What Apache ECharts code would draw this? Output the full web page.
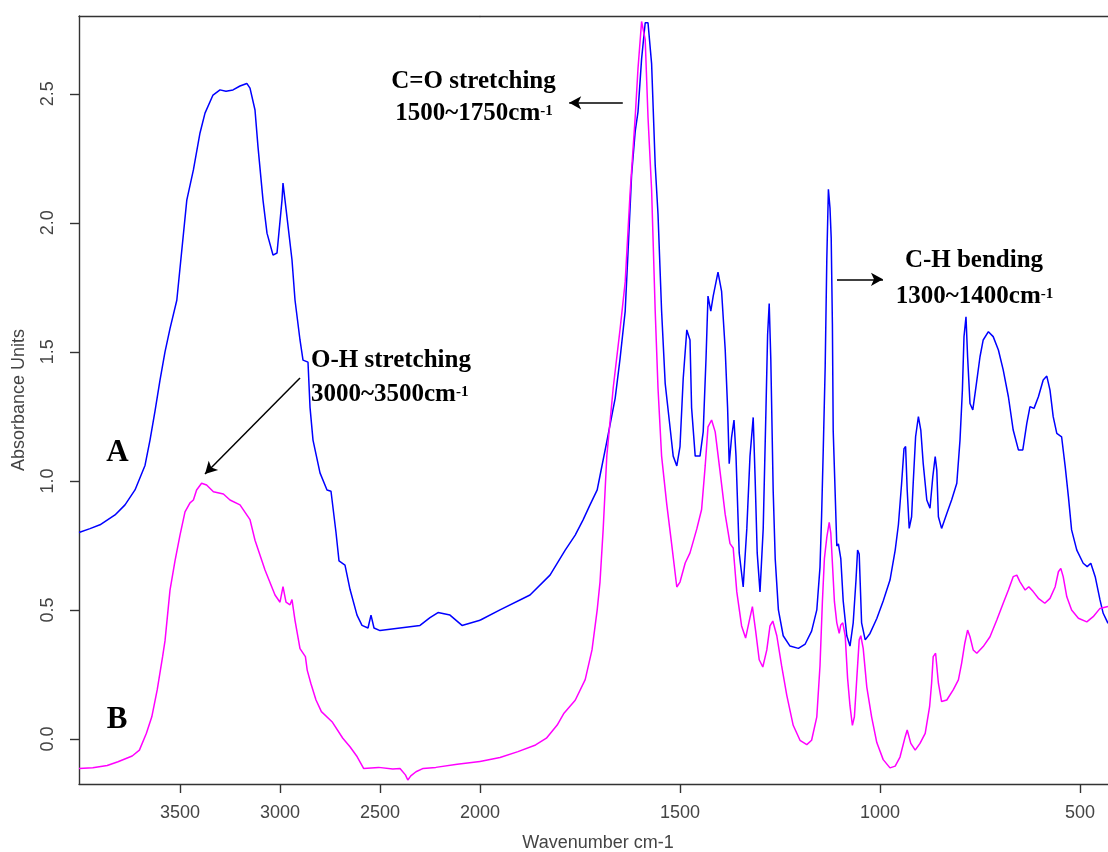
<!DOCTYPE html>
<html><head><meta charset="utf-8">
<script src="https://cdn.jsdelivr.net/npm/echarts@6/dist/echarts.min.js"></script>
<style>html,body{margin:0;padding:0;background:#fff}#chart{width:1108px;height:852px}</style>
</head><body><div id="chart"></div>
<script>
// Spectrum A (blue): wavenumber (cm-1) and absorbance
const waveA = [
 4005, 3950, 3900, 3825, 3775, 3725, 3675, 3650, 3625, 3600,
 3575, 3550, 3516, 3466, 3433, 3400, 3375, 3335, 3300, 3270,
 3235, 3200, 3166, 3150, 3125, 3110, 3085, 3065, 3035, 3015,
 2990, 2985, 2965, 2940, 2925, 2900, 2885, 2860, 2850, 2835,
 2800, 2765, 2745, 2720, 2705, 2675, 2650, 2615, 2590, 2560,
 2545, 2530, 2500, 2400, 2300, 2250, 2210, 2150, 2090, 2000,
 1950, 1875, 1825, 1787, 1762, 1742, 1725, 1707, 1700, 1683,
 1662, 1650, 1637, 1630, 1621, 1612, 1605, 1596, 1587, 1580,
 1571, 1562, 1555, 1546, 1537, 1525, 1517, 1508, 1500, 1492,
 1483, 1475, 1471, 1462, 1450, 1442, 1435, 1430, 1423, 1417,
 1405, 1396, 1387, 1381, 1377, 1371, 1365, 1360, 1352, 1342,
 1333, 1325, 1317, 1312, 1307, 1300, 1292, 1285, 1281, 1277,
 1273, 1267, 1262, 1254, 1242, 1225, 1204, 1187, 1171, 1158,
 1150, 1146, 1142, 1137, 1133, 1129, 1125, 1122, 1119, 1117,
 1112, 1108, 1104, 1098, 1092, 1083, 1075, 1067, 1060, 1056,
 1052, 1046, 1037, 1025, 1008, 992, 975, 962, 954, 946,
 940, 936, 932, 927, 921, 917, 911, 904, 898, 892,
 883, 875, 868, 862, 858, 854, 846, 833, 821, 808,
 800, 794, 790, 785, 781, 775, 768, 760, 750, 742,
 729, 717, 704, 692, 679, 667, 654, 643, 633, 625,
 615, 604, 592, 583, 575, 567, 558, 546, 537, 529,
 521, 508, 492, 482, 473, 462, 450, 442, 430
];
const absA = [
 0.80, 0.815, 0.83, 0.868, 0.907, 0.965, 1.06, 1.158, 1.27, 1.39,
 1.50, 1.59, 1.70, 2.088, 2.205, 2.348, 2.425, 2.495, 2.515, 2.51,
 2.515, 2.53, 2.54, 2.522, 2.437, 2.294, 2.088, 1.96, 1.875, 1.883,
 2.088, 2.154, 2.022, 1.856, 1.701, 1.546, 1.468, 1.46, 1.286, 1.158,
 1.031, 0.965, 0.96, 0.80, 0.69, 0.674, 0.58, 0.48, 0.44, 0.43,
 0.48, 0.43, 0.42, 0.43, 0.44, 0.47, 0.49, 0.48, 0.44, 0.46,
 0.50, 0.558, 0.635, 0.732, 0.79, 0.85, 0.907, 0.965, 1.02, 1.152,
 1.321, 1.472, 1.658, 1.884, 2.185, 2.354, 2.43, 2.635, 2.775, 2.775,
 2.617, 2.224, 2.034, 1.658, 1.377, 1.209, 1.096, 1.058, 1.133, 1.396,
 1.585, 1.546, 1.283, 1.096, 1.096, 1.19, 1.472, 1.716, 1.658, 1.716,
 1.809, 1.734, 1.509, 1.283, 1.067, 1.17, 1.236, 1.096, 0.721, 0.589,
 0.814, 1.096, 1.246, 1.0, 0.721, 0.57, 0.814, 1.283, 1.565, 1.687,
 1.472, 0.96, 0.699, 0.50, 0.40, 0.36, 0.351, 0.368, 0.418, 0.50,
 0.666, 0.864, 1.112, 1.445, 1.857, 2.13, 2.057, 1.941, 1.609, 1.195,
 0.947, 0.748, 0.756, 0.699, 0.535, 0.40, 0.36, 0.45, 0.616, 0.732,
 0.717, 0.45, 0.384, 0.409, 0.467, 0.535, 0.616, 0.732, 0.83, 0.99,
 1.125, 1.133, 0.965, 0.816, 0.861, 0.991, 1.171, 1.249, 1.197, 1.068,
 0.926, 0.894, 1.016, 1.094, 1.042, 0.861, 0.816, 0.874, 0.926, 0.991,
 1.158, 1.352, 1.559, 1.636, 1.481, 1.30, 1.275, 1.365, 1.481, 1.546,
 1.578, 1.559, 1.507, 1.43, 1.326, 1.197, 1.12, 1.12, 1.223, 1.288,
 1.281, 1.326, 1.391, 1.406, 1.352, 1.249, 1.184, 1.171, 1.055, 0.939,
 0.81, 0.732, 0.681, 0.668, 0.681, 0.629, 0.539, 0.487, 0.448
];
// Spectrum B (magenta)
const waveB = [
 4005, 3936, 3864, 3810, 3739, 3703, 3668, 3641, 3614, 3587,
 3575, 3550, 3525, 3500, 3475, 3450, 3433, 3417, 3392, 3367,
 3333, 3283, 3250, 3200, 3150, 3125, 3075, 3025, 3000, 2985,
 2970, 2950, 2940, 2925, 2900, 2873, 2864, 2846, 2820, 2793,
 2740, 2686, 2650, 2614, 2582, 2507, 2436, 2400, 2373, 2361,
 2346, 2320, 2284, 2221, 2114, 2000, 1950, 1905, 1861, 1834,
 1807, 1790, 1762, 1737, 1720, 1707, 1700, 1692, 1683, 1667,
 1650, 1637, 1625, 1612, 1605, 1596, 1587, 1580, 1571, 1562,
 1555, 1546, 1533, 1521, 1508, 1500, 1487, 1475, 1458, 1446,
 1437, 1430, 1421, 1412, 1400, 1387, 1375, 1367, 1358, 1346,
 1336, 1327, 1319, 1311, 1302, 1293, 1283, 1275, 1268, 1258,
 1246, 1233, 1217, 1200, 1183, 1171, 1158, 1150, 1144, 1139,
 1133, 1127, 1123, 1119, 1114, 1108, 1102, 1098, 1093, 1087,
 1081, 1075, 1069, 1064, 1058, 1052, 1048, 1042, 1033, 1021,
 1008, 992, 975, 962, 950, 937, 932, 923, 912, 900,
 887, 876, 871, 867, 861, 854, 846, 833, 817, 804,
 796, 788, 781, 775, 767, 758, 742, 725, 708, 692,
 679, 667, 658, 650, 637, 628, 617, 604, 588, 575,
 562, 554, 548, 542, 533, 521, 504, 483, 467, 450,
 430
];
const absB = [
 -0.114, -0.111, -0.103, -0.088, -0.066, -0.043, 0.022, 0.086, 0.19, 0.319,
 0.38, 0.577, 0.69, 0.79, 0.88, 0.915, 0.926, 0.965, 0.991, 0.984,
 0.958, 0.949, 0.926, 0.907, 0.85, 0.77, 0.655, 0.558, 0.53, 0.59,
 0.53, 0.52, 0.54, 0.46, 0.35, 0.319, 0.267, 0.216, 0.151, 0.106,
 0.067, 0.003, -0.03, -0.069, -0.114, -0.11, -0.116, -0.114, -0.139, -0.159,
 -0.143, -0.127, -0.114, -0.11, -0.098, -0.087, -0.072, -0.049, -0.023, 0.003,
 0.054, 0.10, 0.15, 0.23, 0.345, 0.5, 0.608, 0.814, 1.096, 1.36,
 1.585, 1.771, 2.11, 2.41, 2.598, 2.78, 2.71, 2.41, 2.128, 1.658,
 1.36, 1.096, 0.908, 0.757, 0.589, 0.608, 0.682, 0.721, 0.814, 0.889,
 1.058, 1.209, 1.236, 1.19, 1.038, 0.87, 0.757, 0.74, 0.57, 0.438,
 0.391, 0.457, 0.513, 0.42, 0.307, 0.279, 0.345, 0.438, 0.457, 0.40,
 0.284, 0.169, 0.053, -0.005, -0.022, -0.005, 0.086, 0.284, 0.533, 0.699,
 0.781, 0.839, 0.798, 0.682, 0.533, 0.45, 0.409, 0.442, 0.45, 0.40,
 0.235, 0.128, 0.053, 0.086, 0.235, 0.384, 0.40, 0.351, 0.201, 0.086,
 -0.014, -0.08, -0.112, -0.105, -0.07, 0.009, 0.035, -0.017, -0.043, -0.017,
 0.022, 0.125, 0.216, 0.319, 0.332, 0.216, 0.145, 0.151, 0.19, 0.229,
 0.293, 0.371, 0.422, 0.396, 0.345, 0.332, 0.358, 0.396, 0.461, 0.526,
 0.577, 0.629, 0.635, 0.609, 0.577, 0.59, 0.571, 0.545, 0.526, 0.545,
 0.59, 0.648, 0.661, 0.629, 0.551, 0.50, 0.468, 0.454, 0.474, 0.506,
 0.513
];
const xTicksHigh = [3500, 3000, 2500, 2000];   // compressed region (>= 2000 cm-1)
const xTicksLow = [1500, 1000, 500];           // expanded region (<= 2000 cm-1)
const yTicks = [0, 0.5, 1, 1.5, 2, 2.5];
const BREAK = 2000;

function pairs(w, a, test) {
  const out = [];
  for (let i = 0; i < w.length; i++) if (test(w[i])) out.push([w[i], a[i]]);
  return out;
}
const hi = w => w >= BREAK, lo = w => w <= BREAK;

const AX = '#333', LBL = '#444';
const labelFont = { fontFamily: '"Liberation Sans", Arial, sans-serif', fontSize: 18, color: LBL };
const serif = '"Liberation Serif", "Times New Roman", serif';

function bottomX(grid, min, max, ticks) {
  return {
    type: 'value', gridIndex: grid, position: 'bottom', min: min, max: max, inverse: true,
    axisLine: { show: true, onZero: false, lineStyle: { color: AX, width: 1.4 } },
    axisTick: { show: true, inside: false, length: 9, customValues: ticks, lineStyle: { color: AX, width: 1.4 } },
    axisLabel: Object.assign({ show: true, margin: 20, customValues: ticks, formatter: v => String(v) }, labelFont),
    splitLine: { show: false }
  };
}
function topX(grid, min, max) {
  return {
    type: 'value', gridIndex: grid, position: 'top', min: min, max: max, inverse: true,
    axisLine: { show: true, onZero: false, lineStyle: { color: AX, width: 1.4 } },
    axisTick: { show: false }, axisLabel: { show: false }, splitLine: { show: false }
  };
}
const yMin = -0.1744, yMax = 2.8013;

const arrowLine = { color: '#000', width: 1.5, type: 'solid' };
function arrow(from, to) {
  return [{ coord: from, symbol: 'none' }, { coord: to, symbol: 'arrow', symbolSize: [10, 12] }];
}

const option = {
  animation: false,
  backgroundColor: '#fff',
  grid: [
    { left: 79, top: 16, width: 401, height: 768, containLabel: false, outerBoundsMode: 'none' },
    { left: 480, top: 16, width: 628, height: 768, containLabel: false, outerBoundsMode: 'none' }
  ],
  xAxis: [
    bottomX(0, BREAK, 4005, xTicksHigh),
    bottomX(1, 430, BREAK, xTicksLow),
    topX(0, BREAK, 4005),
    topX(1, 430, BREAK)
  ],
  yAxis: [
    {
      type: 'value', gridIndex: 0, min: yMin, max: yMax,
      axisLine: { show: true, onZero: false, lineStyle: { color: AX, width: 1.4 } },
      axisTick: { show: true, length: 9, customValues: yTicks, lineStyle: { color: AX, width: 1.4 } },
      axisLabel: Object.assign({ show: true, rotate: 90, margin: 22, customValues: yTicks, formatter: v => v.toFixed(1) }, labelFont),
      splitLine: { show: false }
    },
    { type: 'value', gridIndex: 1, min: yMin, max: yMax, show: false, splitLine: { show: false } }
  ],
  series: [
    {
      type: 'line', name: 'A', xAxisIndex: 0, yAxisIndex: 0, data: pairs(waveA, absA, hi),
      showSymbol: false, symbol: 'none', lineStyle: { color: '#0000ff', width: 1.5 }, itemStyle: { color: '#0000ff' },
      markLine: { silent: true, animation: false, label: { show: false }, lineStyle: arrowLine,
        data: [arrow([2900, 1.399], [3375, 1.027])] }
    },
    {
      type: 'line', name: 'A', xAxisIndex: 1, yAxisIndex: 1, data: pairs(waveA, absA, lo),
      showSymbol: false, symbol: 'none', lineStyle: { color: '#0000ff', width: 1.5 }, itemStyle: { color: '#0000ff' },
      markLine: { silent: true, animation: false, label: { show: false }, lineStyle: arrowLine,
        data: [arrow([1643, 2.465], [1777, 2.465]), arrow([1107.5, 1.781], [992.5, 1.781])] }
    },
    {
      type: 'line', name: 'B', xAxisIndex: 0, yAxisIndex: 0, data: pairs(waveB, absB, hi),
      showSymbol: false, symbol: 'none', lineStyle: { color: '#ff00ff', width: 1.5 }, itemStyle: { color: '#ff00ff' }
    },
    {
      type: 'line', name: 'B', xAxisIndex: 1, yAxisIndex: 1, data: pairs(waveB, absB, lo),
      showSymbol: false, symbol: 'none', lineStyle: { color: '#ff00ff', width: 1.5 }, itemStyle: { color: '#ff00ff' }
    }
  ],
  graphic: [
    { type: 'text', x: 598, y: 843, style: { text: 'Wavenumber cm-1', font: '18px "Liberation Sans", Arial, sans-serif', fill: LBL, align: 'center', verticalAlign: 'middle' } },
    { type: 'text', x: 19, y: 400, rotation: Math.PI / 2, style: { text: 'Absorbance Units', font: '18px "Liberation Sans", Arial, sans-serif', fill: LBL, align: 'center', verticalAlign: 'middle' } },
    { type: 'text', x: 473.5, y: 82, style: { text: 'C=O stretching', font: 'bold 25px ' + serif, fill: '#000', align: 'center', verticalAlign: 'middle' } },
    { type: 'text', x: 474, y: 114, style: { text: '{a|1500~1750cm}{s|-1}', align: 'center', verticalAlign: 'middle',
        rich: { a: { fontFamily: serif, fontWeight: 'bold', fontSize: 25, lineHeight: 20, color: '#000' },
                s: { fontFamily: serif, fontWeight: 'bold', fontSize: 15, lineHeight: 14, verticalAlign: 'top', color: '#000' } } } },
    { type: 'text', x: 974, y: 261, style: { text: 'C-H bending', font: 'bold 25px ' + serif, fill: '#000', align: 'center', verticalAlign: 'middle' } },
    { type: 'text', x: 974.5, y: 297, style: { text: '{a|1300~1400cm}{s|-1}', align: 'center', verticalAlign: 'middle',
        rich: { a: { fontFamily: serif, fontWeight: 'bold', fontSize: 25, lineHeight: 20, color: '#000' },
                s: { fontFamily: serif, fontWeight: 'bold', fontSize: 15, lineHeight: 14, verticalAlign: 'top', color: '#000' } } } },
    { type: 'text', x: 311, y: 361, style: { text: 'O-H stretching', font: 'bold 25px ' + serif, fill: '#000', align: 'left', verticalAlign: 'middle' } },
    { type: 'text', x: 311, y: 395, style: { text: '{a|3000~3500cm}{s|-1}', align: 'left', verticalAlign: 'middle',
        rich: { a: { fontFamily: serif, fontWeight: 'bold', fontSize: 25, lineHeight: 20, color: '#000' },
                s: { fontFamily: serif, fontWeight: 'bold', fontSize: 15, lineHeight: 14, verticalAlign: 'top', color: '#000' } } } },
    { type: 'text', x: 117.5, y: 453, style: { text: 'A', font: 'bold 31px ' + serif, fill: '#000', align: 'center', verticalAlign: 'middle' } },
    { type: 'text', x: 117, y: 720, style: { text: 'B', font: 'bold 31px ' + serif, fill: '#000', align: 'center', verticalAlign: 'middle' } }
  ]
};
const chart = echarts.init(document.getElementById('chart'), null, { renderer: 'canvas' });
chart.setOption(option);
</script>
</body></html>
